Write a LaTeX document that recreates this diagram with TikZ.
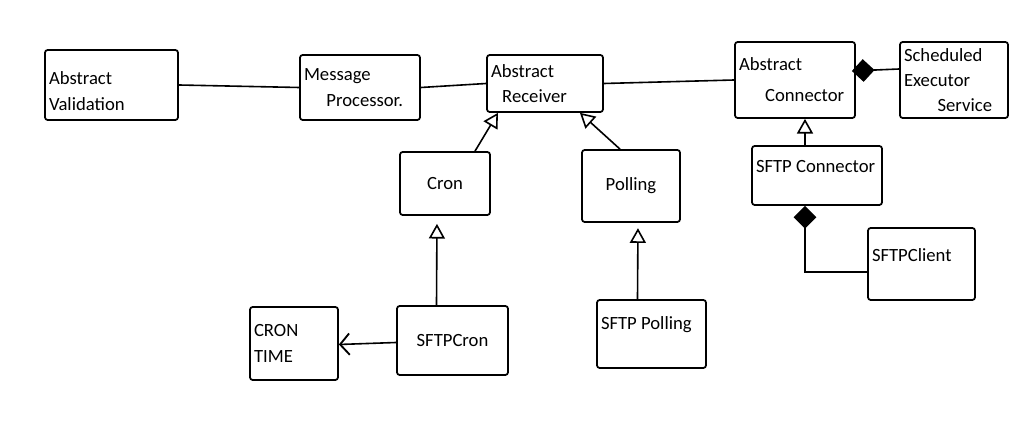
\documentclass[tikz,border=0pt]{standalone}
\usepackage{fontspec}
\setmainfont{Carlito}
\usetikzlibrary{arrows.meta,calc}
\tikzset{
  cls/.style={draw, line width=1.3pt, rounded corners=2pt, rectangle, align=flush left,
    font=\fontsize{14}{19}\selectfont, inner sep=3pt},
  sz/.style 2 args={minimum width=#1*0.75pt, minimum height=#2*0.75pt, text width=#1*0.75pt-6pt},
  link/.style={line width=1.2pt},
  inherit/.style={link, -{Triangle[open, length=11pt, width=12pt, line width=1.2pt]}},
  compose/.style={link, {Diamond[length=17pt, width=17pt]}-},
  uses/.style={link, -{Straight Barb[length=7pt, width=16pt, line width=1.4pt]}}
}
\begin{document}
\begin{tikzpicture}[x=0.75pt,y=-0.75pt]
\useasboundingbox (0,0) rectangle (1033,448);
% top row
\node[cls, sz={133}{70}, text depth=10pt] (val) at (111.5,85) {Abstract\\Validation};
\node[cls, sz={120}{65}] (msg) at (360,87.5) {Message\\\hspace*{1.2em}Processor.};
\node[cls, sz={116}{57}] (recv) at (545,83.5) {Abstract\\\hspace*{0.6em}Receiver};
\node[cls, sz={120}{76}] (aconn) at (795,80) {Abstract\\[0.3em]\hspace*{1.4em}Connector};
\node[cls, sz={108}{76}] (sched) at (954,80) {Scheduled\\Executor\\\hspace*{1.8em}Service};
% second row
\node[cls, sz={90}{63}, align=center] (cron) at (445,183.5) {Cron};
\node[cls, sz={98}{72}, align=center] (poll) at (631,186) {Polling};
\node[cls, sz={130}{59}, text depth=14pt] (sconn) at (817,175.5) {SFTP Connector};
\node[cls, sz={107}{72}, text depth=14pt] (sclient) at (921.5,264) {SFTPClient};
% third row
\node[cls, sz={88}{73}] (crontime) at (294,343.5) {CRON\\TIME};
\node[cls, sz={111}{69}, align=center] (scron) at (452.5,340.5) {SFTPCron};
\node[cls, sz={109}{68}, text depth=16pt] (spoll) at (651.5,334) {SFTP Polling};
% associations
\draw[link] (val.east) -- (msg.west);
\draw[link] (msg.east) -- (recv.west);
\draw[link] (recv.east) -- (aconn.west);
\draw[compose] ($(aconn.east)+(-4,-9)$) -- ($(sched.west)+(0,-11)$);
\draw[compose] ($(sconn.south)+(-12,0)$) |- ($(sclient.west)+(0,8)$);
\draw[uses] ($(scron.west)+(0,2)$) -- ($(crontime.east)+(0,1)$);
% generalisations
\draw[inherit] ($(cron.north)+(30,0)$) -- ($(recv.south)+(-47,0)$);
\draw[inherit] ($(poll.north)+(-11,0)$) -- ($(recv.south)+(35,0)$);
\draw[inherit] ($(sconn.north)+(-12,0)$) -- ($(aconn.south)+(10,0)$);
\draw[inherit, shorten >=6pt] ($(scron.north)+(-16,0)$) -- ($(cron.south)+(-8,0)$);
\draw[inherit, shorten >=4pt] ($(spoll.north)+(-14,0)$) -- ($(poll.south)+(7,0)$);
\end{tikzpicture}
\end{document}
